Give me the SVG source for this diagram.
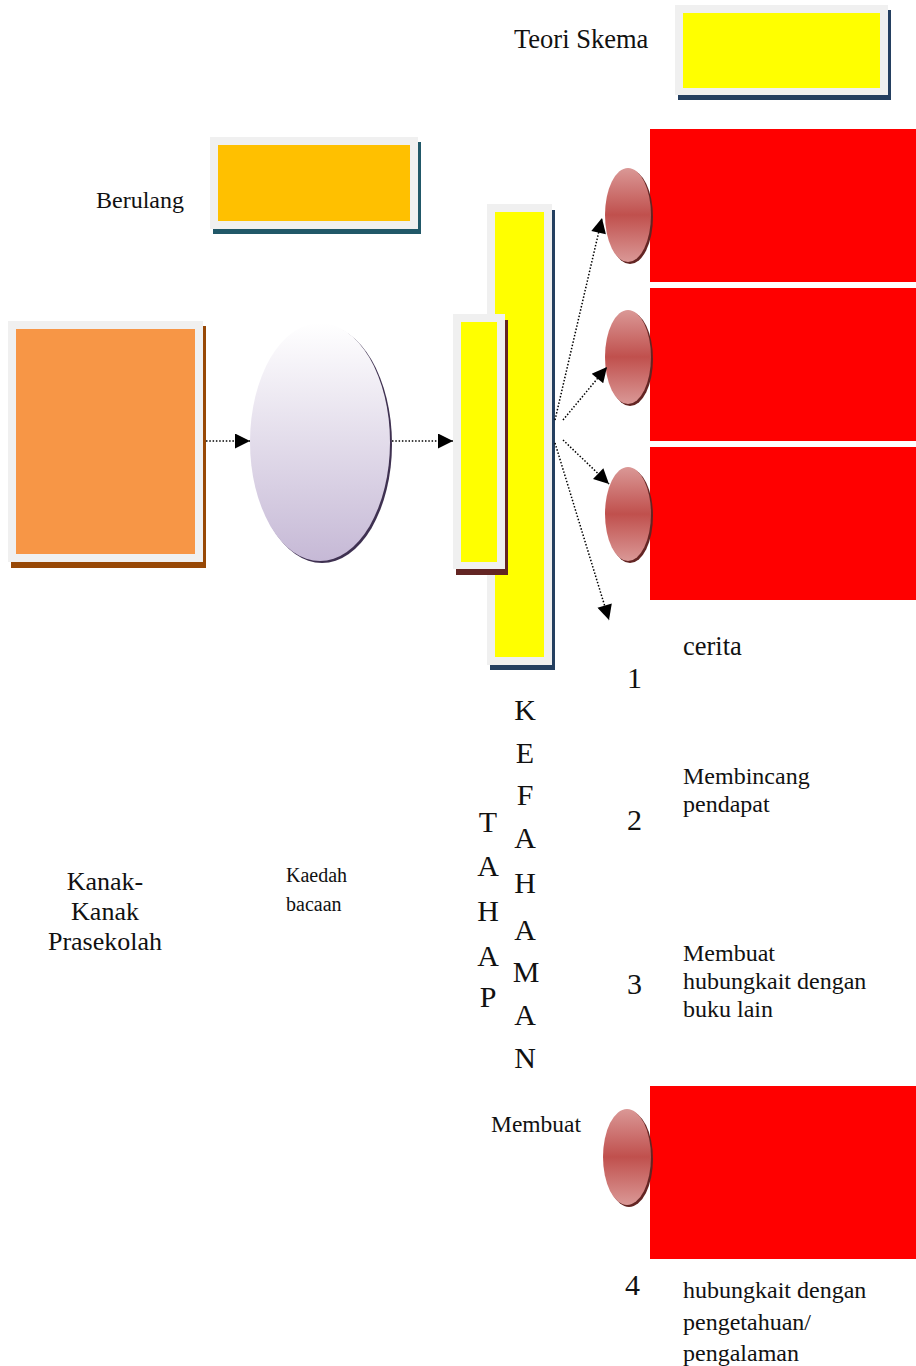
<svg xmlns="http://www.w3.org/2000/svg" width="916" height="1366" viewBox="0 0 916 1366">
<defs>
<linearGradient id="gLav" x1="0" y1="0" x2="0" y2="1">
<stop offset="0" stop-color="#FFFFFF"/>
<stop offset="1" stop-color="#C6B9D6"/>
</linearGradient>
<linearGradient id="gRed" x1="0" y1="0" x2="0" y2="1">
<stop offset="0" stop-color="#DA9896"/>
<stop offset="0.5" stop-color="#C0504D"/>
<stop offset="1" stop-color="#DA9896"/>
</linearGradient>
<marker id="ah" viewBox="0 0 10 10" refX="10" refY="5" markerWidth="17" markerHeight="15" markerUnits="userSpaceOnUse" orient="auto">
<path d="M0,0 L10,5 L0,10 Z" fill="#000"/>
</marker>
</defs>
<style>
text{font-family:"Liberation Serif","Times New Roman",serif;fill:#111}
.frame{fill:#F0F0F0}
.conn{fill:none;stroke:#000;stroke-width:1.5;stroke-dasharray:1.5 1.8;marker-end:url(#ah)}
.red{fill:#FF0000}
.redshadow{fill:#632523}
</style>

<g id="teori-skema">
<text x="514" y="48" font-size="26.5">Teori Skema</text>
<rect x="678" y="10" width="213" height="90" fill="#243F60"/>
<rect class="frame" x="675" y="5" width="213" height="90"/>
<rect x="683" y="13" width="197" height="75" fill="#FFFF00"/>
</g>

<g id="berulang">
<text x="96" y="208" font-size="24">Berulang</text>
<rect x="213" y="142" width="208" height="92" fill="#215868"/>
<rect class="frame" x="210" y="137" width="208" height="92"/>
<rect x="218" y="145" width="192" height="76" fill="#FFC000"/>
</g>

<g id="kanak">
<rect x="11" y="326" width="195" height="242" fill="#974806"/>
<rect class="frame" x="8" y="321" width="195" height="241"/>
<rect x="16" y="329" width="179" height="225" fill="#F79646"/>
<text x="105" y="890" font-size="26" text-anchor="middle">Kanak-</text>
<text x="105" y="920" font-size="26" text-anchor="middle">Kanak</text>
<text x="105" y="950" font-size="26" text-anchor="middle">Prasekolah</text>
</g>

<g id="kaedah">
<ellipse cx="322" cy="444" rx="70" ry="119" fill="#3F3151"/>
<ellipse cx="320" cy="442" rx="70" ry="119" fill="url(#gLav)"/>
<text x="286" y="882" font-size="20">Kaedah</text>
<text x="286" y="911" font-size="20">bacaan</text>
</g>

<g id="tahap-kefahaman">
<rect x="490" y="210" width="65" height="460" fill="#243F60"/>
<rect class="frame" x="487" y="204" width="65" height="461"/>
<rect x="495" y="212" width="49" height="445" fill="#FFFF00"/>
<rect x="456" y="320" width="52" height="255" fill="#632523"/>
<rect class="frame" x="453" y="314" width="52" height="255"/>
<rect x="461" y="322" width="36" height="240" fill="#FFFF00"/>
<g font-size="30" text-anchor="middle">
<text x="488" y="832">T</text>
<text x="488" y="876">A</text>
<text x="488" y="921">H</text>
<text x="488" y="966">A</text>
<text x="488" y="1007">P</text>
<text x="525" y="720">K</text>
<text x="525" y="763">E</text>
<text x="525" y="805">F</text>
<text x="525" y="848">A</text>
<text x="525" y="893">H</text>
<text x="525" y="940">A</text>
<text x="526" y="982">M</text>
<text x="525" y="1025">A</text>
<text x="525" y="1068">N</text>
</g>
</g>

<g id="item1">
<rect class="red" x="650" y="129" width="266" height="153"/>
<ellipse class="redshadow" cx="630" cy="217" rx="23" ry="47"/>
<ellipse cx="628" cy="215" rx="23" ry="47" fill="url(#gRed)"/>
<text x="683" y="655" font-size="26.5">cerita</text>
<text x="627" y="688" font-size="30">1</text>
</g>

<g id="item2">
<rect class="red" x="650" y="288" width="266" height="153"/>
<ellipse class="redshadow" cx="630" cy="359" rx="23" ry="47"/>
<ellipse cx="628" cy="357" rx="23" ry="47" fill="url(#gRed)"/>
<text x="683" y="784" font-size="24">Membincang</text>
<text x="683" y="812" font-size="24">pendapat</text>
<text x="627" y="830" font-size="30">2</text>
</g>

<g id="item3">
<rect class="red" x="650" y="447" width="266" height="153"/>
<ellipse class="redshadow" cx="630" cy="516" rx="23" ry="47"/>
<ellipse cx="628" cy="514" rx="23" ry="47" fill="url(#gRed)"/>
<text x="683" y="961" font-size="24">Membuat</text>
<text x="683" y="989" font-size="24">hubungkait dengan</text>
<text x="683" y="1017" font-size="24">buku lain</text>
<text x="627" y="994" font-size="30">3</text>
</g>

<g id="item4">
<rect class="red" x="650" y="1086" width="266" height="173"/>
<ellipse class="redshadow" cx="629" cy="1159" rx="24" ry="48"/>
<ellipse cx="627" cy="1157" rx="24" ry="48" fill="url(#gRed)"/>
<text x="491" y="1132" font-size="23.5">Membuat</text>
<text x="625" y="1295" font-size="30">4</text>
<text x="683" y="1298" font-size="24">hubungkait dengan</text>
<text x="683" y="1330" font-size="24">pengetahuan/</text>
<text x="683" y="1361" font-size="24">pengalaman</text>
</g>

<g id="connectors">
<line class="conn" x1="206" y1="441" x2="250" y2="441"/>
<line class="conn" x1="392" y1="441" x2="453" y2="441"/>
<line class="conn" x1="555" y1="420" x2="602" y2="218"/>
<line class="conn" x1="563" y1="420" x2="607" y2="367"/>
<line class="conn" x1="563" y1="440" x2="609" y2="484"/>
<line class="conn" x1="555" y1="443" x2="609" y2="620"/>
</g>
</svg>
